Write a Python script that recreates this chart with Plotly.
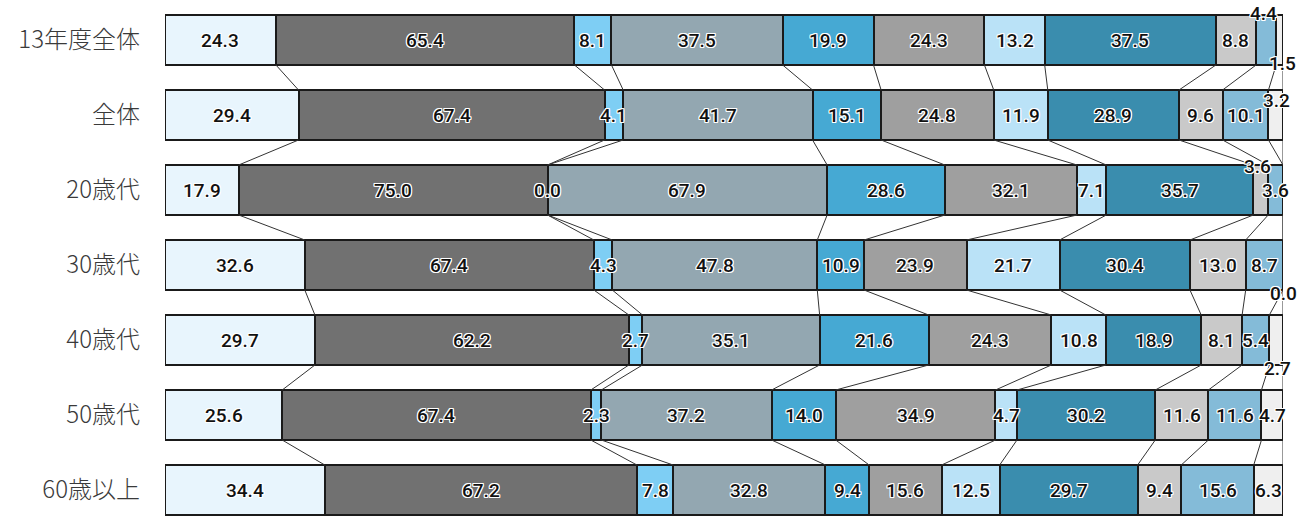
import plotly.graph_objects as go
import numpy as np

categories = ["13年度全体", "全体", "20歳代", "30歳代", "40歳代", "50歳代", "60歳以上"]

s01 = [24.3, 29.4, 17.9, 32.6, 29.7, 25.6, 34.4]
s02 = [65.4, 67.4, 75.0, 67.4, 62.2, 67.4, 67.2]
s03 = [8.1, 4.1, 0.0, 4.3, 2.7, 2.3, 7.8]
s04 = [37.5, 41.7, 67.9, 47.8, 35.1, 37.2, 32.8]
s05 = [19.9, 15.1, 28.6, 10.9, 21.6, 14.0, 9.4]
s06 = [24.3, 24.8, 32.1, 23.9, 24.3, 34.9, 15.6]
s07 = [13.2, 11.9, 7.1, 21.7, 10.8, 4.7, 12.5]
s08 = [37.5, 28.9, 35.7, 30.4, 18.9, 30.2, 29.7]
s09 = [8.8, 9.6, 3.6, 13.0, 8.1, 11.6, 9.4]
s10 = [4.4, 10.1, 3.6, 8.7, 5.4, 11.6, 15.6]
s11 = [1.5, 3.2, 0.0, 0.0, 2.7, 4.7, 6.3]

series = [s01, s02, s03, s04, s05, s06, s07, s08, s09, s10, s11]
colors = ["#E8F5FD", "#717171", "#7ECEF4", "#93A7B1", "#46A9D3", "#9F9F9F",
          "#BAE2F7", "#3A8DAE", "#C9C9C9", "#84BBD8", "#EFEFEF"]

# label offsets in pixels for crowded small segments: (row, series) -> (xshift, yshift)
label_offsets = {
    (0, 9): (-3, 27),
    (0, 10): (3, -23),
    (1, 10): (1, 15),
    (2, 8): (-3, 24),
    (2, 10): (0, -25),
    (3, 10): (0, -28),
    (4, 10): (1, -28),
}

ypos = list(range(len(categories)))
half = 1 / 3.0

fig = go.Figure()

vals = np.array(series)  # shape (11, 7)
totals = vals.sum(axis=0)
pct = vals / totals * 100.0
cum = np.cumsum(pct, axis=0)

# connector lines between rows at each cumulative boundary
cx, cy = [], []
for i in range(len(categories) - 1):
    for k in range(len(series)):
        cx += [cum[k, i], cum[k, i + 1], None]
        cy += [ypos[i] + half, ypos[i + 1] - half, None]
fig.add_trace(go.Scatter(x=cx, y=cy, mode="lines",
                         line=dict(color="#333333", width=1),
                         hoverinfo="skip", showlegend=False))

for k, s in enumerate(series):
    fig.add_trace(go.Bar(
        y=ypos, x=s, orientation="h", width=2 * half,
        marker=dict(color=colors[k], line=dict(color="#1a1a1a", width=2)),
        showlegend=False, hoverinfo="skip",
    ))

halo = ("1px 1px 0 #fff, -1px -1px 0 #fff, 1px -1px 0 #fff, -1px 1px 0 #fff, "
        "0 1px 0 #fff, 1px 0 0 #fff, 0 -1px 0 #fff, -1px 0 0 #fff")

annotations = []
for k, s in enumerate(series):
    for i, v in enumerate(s):
        xc = cum[k, i] - pct[k, i] / 2.0
        dx, dy = label_offsets.get((i, k), (0, 0))
        annotations.append(dict(
            x=xc, y=ypos[i], text=f"{v:.1f}", showarrow=False,
            xshift=dx, yshift=dy,
            font=dict(family="Roboto, sans-serif",
                      size=19, color="#111111", weight=500, shadow=halo),
        ))

fig.update_layout(
    barmode="stack",
    barnorm="percent",
    width=1297, height=520,
    margin=dict(l=165, r=14, t=0, b=0, autoexpand=False),
    plot_bgcolor="white", paper_bgcolor="white",
    annotations=annotations,
    xaxis=dict(range=[0, 100], visible=False, fixedrange=True),
    yaxis=dict(range=[6.4, -0.5333], tickvals=ypos, ticktext=categories,
               showgrid=False, zeroline=False, showline=False, ticks="",
               ticklabelstandoff=24, automargin=False, fixedrange=True,
               tickfont=dict(family="Noto Sans CJK JP", size=24, color="#3a3a3a", weight=300)),
)

fig.write_html("out.html", config={"displayModeBar": False},
               post_script="document.body.style.margin='0';document.body.style.overflow='hidden';")
